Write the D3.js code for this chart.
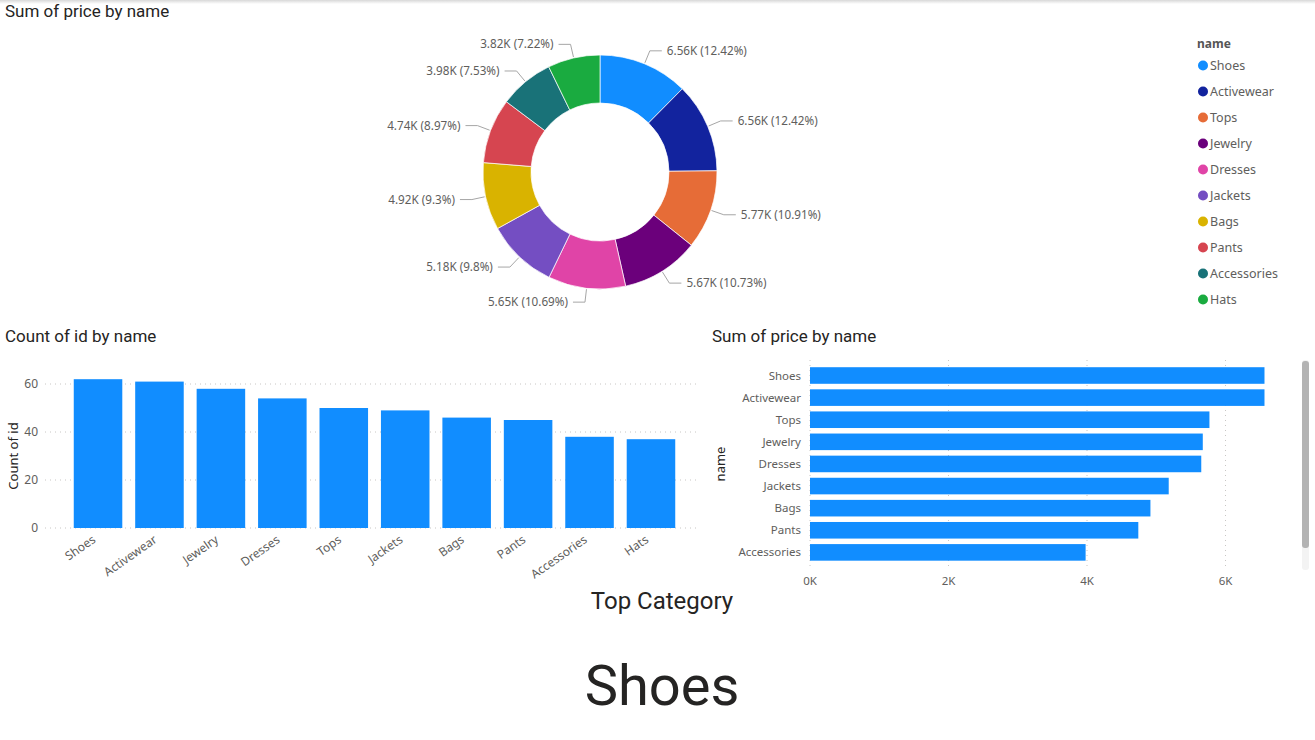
<!DOCTYPE html>
<html><head><meta charset="utf-8">
<script src="https://cdn.jsdelivr.net/npm/d3@7"></script>
<style>
body{margin:0;background:#fff;overflow:hidden}
svg{display:block}
</style></head><body>
<svg id="c" width="1315" height="740"></svg>
<script>
const names = ["Shoes","Activewear","Tops","Jewelry","Dresses","Jackets","Bags","Pants","Accessories","Hats"];
const priceSums = [6563,6563,5768,5672,5650,5180,4916,4741,3980,3816];
const colors = ["#118DFF","#12239E","#E66C37","#6B007B","#E044A7","#744EC2","#D9B300","#D64550","#197278","#1AAB40"];
const countNames = ["Shoes","Activewear","Jewelry","Dresses","Tops","Jackets","Bags","Pants","Accessories","Hats"];
const counts = [62,61,58,54,50,49,46,45,38,37];
const countTicks = [0,20,40,60];
const priceTicks = [0,2000,4000,6000];
const topCategory = "Shoes";

const TITLE_FONT = "Roboto, 'DejaVu Sans', sans-serif";
const UI_FONT = "'Noto Sans', 'Open Sans', sans-serif";
const svg = d3.select("#c");

// top shadow
const defs = svg.append("defs");
const g0 = defs.append("linearGradient").attr("id","sh").attr("x1",0).attr("y1",0).attr("x2",0).attr("y2",1);
g0.append("stop").attr("offset","0").attr("stop-color","#d8d8d8");
g0.append("stop").attr("offset","1").attr("stop-color","#ffffff");
svg.append("rect").attr("x",0).attr("y",0).attr("width",1315).attr("height",4).attr("fill","url(#sh)");

function title(x,y,t){
  svg.append("text").attr("x",x).attr("y",y).text(t)
    .attr("font-family",TITLE_FONT).attr("font-size",17).attr("fill","#252423");
}
title(5,17,"Sum of price by name");
title(5,342,"Count of id by name");
title(712,342,"Sum of price by name");

// ---------- Donut ----------
const cx=600, cy=172, R=117, r0=69;
const total = d3.sum(priceSums);
const pie = d3.pie().sort(null).value(d=>d.v);
const pdata = pie(names.map((n,i)=>({n, v:priceSums[i], c:colors[i]})));
const arc = d3.arc().innerRadius(r0).outerRadius(R);
const dg = svg.append("g").attr("transform",`translate(${cx},${cy})`);
dg.selectAll("path").data(pdata).join("path")
  .attr("d",arc).attr("fill",d=>d.data.c).attr("stroke","#fff").attr("stroke-width",0.7);
const fmtK = v => (v/1000).toFixed(2)+"K";
const fmtP = v => (+(v*100).toFixed(2))+"%";
pdata.forEach(d=>{
  const a=(d.startAngle+d.endAngle)/2;
  const s=Math.sin(a), c=Math.cos(a);
  const x1=(R+1)*s, y1=-(R+1)*c;
  const x2=131*s, y2=-131*c;
  const dir = s>=0?1:-1;
  const x3=x2+dir*12;
  dg.append("polyline").attr("points",`${x1},${y1} ${x2},${y2} ${x3},${y2}`)
    .attr("fill","none").attr("stroke","#a6a6a6").attr("stroke-width",1);
  dg.append("text").attr("x",x3+dir*5).attr("y",y2).attr("dy","0.35em")
    .attr("text-anchor",dir>0?"start":"end")
    .attr("font-family",UI_FONT).attr("font-size",11.7).attr("fill","#605e5c")
    .text(`${fmtK(d.data.v)} (${fmtP(d.data.v/total)})`);
});

// legend
const lg = svg.append("g");
lg.append("text").attr("x",1197).attr("y",48).text("name")
  .attr("font-family",UI_FONT).attr("font-size",12).attr("font-weight",700).attr("fill","#555");
names.forEach((n,i)=>{
  const y=65.5+i*26;
  lg.append("circle").attr("cx",1203).attr("cy",y).attr("r",5).attr("fill",colors[i]);
  lg.append("text").attr("x",1210).attr("y",y).attr("dy","0.35em").text(n)
    .attr("font-family",UI_FONT).attr("font-size",12.5).attr("fill","#605e5c");
});

// ---------- Column chart ----------
const xb = d3.scaleBand().domain(countNames).range([67,682]).paddingInner(0.21).paddingOuter(0.11);
const yb = d3.scaleLinear().domain([0,60]).range([528,384]);
const cg = svg.append("g");
cg.selectAll("line.g").data(countTicks).join("line")
  .attr("x1",45).attr("x2",700).attr("y1",d=>yb(d)).attr("y2",d=>yb(d))
  .attr("stroke","#c8c6c4").attr("stroke-dasharray","1,4");
cg.selectAll("text.yt").data(countTicks).join("text")
  .attr("x",38).attr("y",d=>yb(d)).attr("dy","0.35em").attr("text-anchor","end")
  .attr("font-family",UI_FONT).attr("font-size",12).attr("fill","#605e5c").text(d=>d);
cg.selectAll("rect").data(countNames).join("rect")
  .attr("x",d=>xb(d)).attr("width",xb.bandwidth())
  .attr("y",(d,i)=>yb(counts[i])).attr("height",(d,i)=>yb(0)-yb(counts[i]))
  .attr("fill","#118DFF");
cg.selectAll("text.xt").data(countNames).join("text")
  .attr("transform",d=>`translate(${xb(d)+xb.bandwidth()/2-4},${538}) rotate(-35)`)
  .attr("text-anchor","end").attr("dy","0.35em")
  .attr("font-family",UI_FONT).attr("font-size",12).attr("fill","#605e5c").text(d=>d);
cg.append("text").attr("transform","translate(18,456) rotate(-90)").attr("text-anchor","middle")
  .attr("font-family",UI_FONT).attr("font-size",13).attr("fill","#252423").text("Count of id");

// ---------- Horizontal bar chart ----------
const xh = d3.scaleLinear().domain([0,6000]).range([810,1225.5]);
const yh = d3.scaleBand().domain(names).range([365,585]).paddingInner(0.25).paddingOuter(0.1);
const hg = svg.append("g");
defs.append("clipPath").attr("id","hc").append("rect").attr("x",700).attr("y",360).attr("width",600).attr("height",205);
hg.selectAll("line.g").data(priceTicks).join("line")
  .attr("x1",d=>xh(d)).attr("x2",d=>xh(d)).attr("y1",360).attr("y2",568)
  .attr("stroke","#c8c6c4").attr("stroke-dasharray","1,4");
hg.selectAll("text.xt").data(priceTicks).join("text")
  .attr("x",d=>xh(d)).attr("y",581).attr("dy","0.35em").attr("text-anchor","middle")
  .attr("font-family",UI_FONT).attr("font-size",11.5).attr("fill","#605e5c").text(d=>(d/1000)+"K");
const hc = hg.append("g").attr("clip-path","url(#hc)");
hc.selectAll("rect").data(names).join("rect")
  .attr("x",xh(0)).attr("y",d=>yh(d)).attr("height",yh.bandwidth())
  .attr("width",(d,i)=>xh(priceSums[i])-xh(0)).attr("fill","#118DFF");
hc.selectAll("text.yt").data(names).join("text")
  .attr("x",801).attr("y",d=>yh(d)+yh.bandwidth()/2).attr("dy","0.35em").attr("text-anchor","end")
  .attr("font-family",UI_FONT).attr("font-size",11.5).attr("fill","#605e5c").text(d=>d);
hg.append("text").attr("transform","translate(725,464) rotate(-90)").attr("text-anchor","middle")
  .attr("font-family",UI_FONT).attr("font-size",13).attr("fill","#252423").text("name");
// scrollbar
hg.append("rect").attr("x",1302).attr("y",360).attr("width",7).attr("height",210).attr("rx",3).attr("fill","#f3f3f3");
hg.append("rect").attr("x",1302).attr("y",361).attr("width",7).attr("height",187).attr("rx",3).attr("fill","#b3b3b3");

// ---------- Card ----------
svg.append("text").attr("x",662).attr("y",609).attr("text-anchor","middle")
  .attr("font-family",TITLE_FONT).attr("font-size",24).attr("fill","#252423").text("Top Category");
svg.append("text").attr("x",662).attr("y",705).attr("text-anchor","middle")
  .attr("font-family",TITLE_FONT).attr("font-size",56).attr("fill","#252423").text(topCategory);
</script>
</body></html>
